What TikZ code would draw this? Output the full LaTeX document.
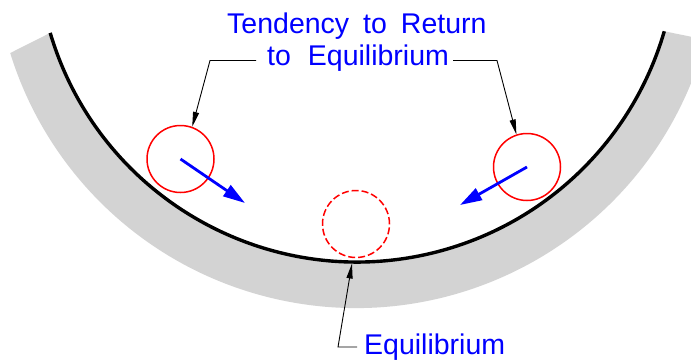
\documentclass[tikz,border=0pt]{standalone}
\usepackage{fontspec}
\setmainfont{Liberation Sans}
\usetikzlibrary{arrows.meta,calc}
\definecolor{band}{RGB}{211,211,211}
\begin{document}
\begin{tikzpicture}[x=1pt,y=1pt,
  ball/.style={circle, draw=red, line width=1.5pt, minimum size=67pt, inner sep=0pt},
  lbl/.style={text=blue, font=\fontsize{28.5}{32}\selectfont, inner sep=0pt},
  lead/.style={line width=0.9pt, black},
  leadarrow/.style={lead, -{Triangle[length=15pt,width=6pt]}},
  push/.style={blue, line width=2.8pt, -{Triangle[length=22pt,width=13pt]}}]
\useasboundingbox (0,0) rectangle (691,-362);
% grey band
\fill[band] (357,58) ++(196.5:320) arc[start angle=196.5,end angle=343.8,radius=320]
  -- ($(356,54)+(345:362)$) arc[start angle=345,end angle=197.2,radius=362] -- cycle;
% bowl surface
\draw[line width=3.4pt] (357,58) ++(196.5:320) arc[start angle=196.5,end angle=343.8,radius=320];
% balls
\node[ball] (L) at (180.5,-159) {};
\node[ball] (R) at (527,-167) {};
\node[ball, dash pattern=on 7pt off 3pt] (E) at (356,-224) {};
% tendencies
\coordinate (Ltip) at (245,-203);
\coordinate (Rtip) at (460,-205);
\draw[push] (L.center) -- (Ltip);
\draw[push] (R.center) -- (Rtip);
% labels
\node[lbl, anchor=base west] (t1) at (227,-33) {Tendency\hspace{14pt}to\hspace{14pt}Return};
\node[lbl, anchor=base west] (t2) at (267,-65) {to\hspace{17pt}Equilibrium};
\node[lbl, anchor=base west] (eq) at (364,-354) {Equilibrium};
% leaders
\coordinate (la) at (256,-60.5);
\coordinate (lb) at (210,-60.5);
\coordinate (ra) at (453,-60.5);
\coordinate (rb) at (497,-60.5);
\draw[leadarrow] (la) -- (lb) -- (L.70);
\draw[leadarrow] (ra) -- (rb) -- (R.108);
\coordinate (ea) at (357,-347);
\coordinate (eb) at (338,-347);
\coordinate (bot) at (352,-263.5);
\draw[leadarrow] (ea) -- (eb) -- (bot);
\end{tikzpicture}
\end{document}
